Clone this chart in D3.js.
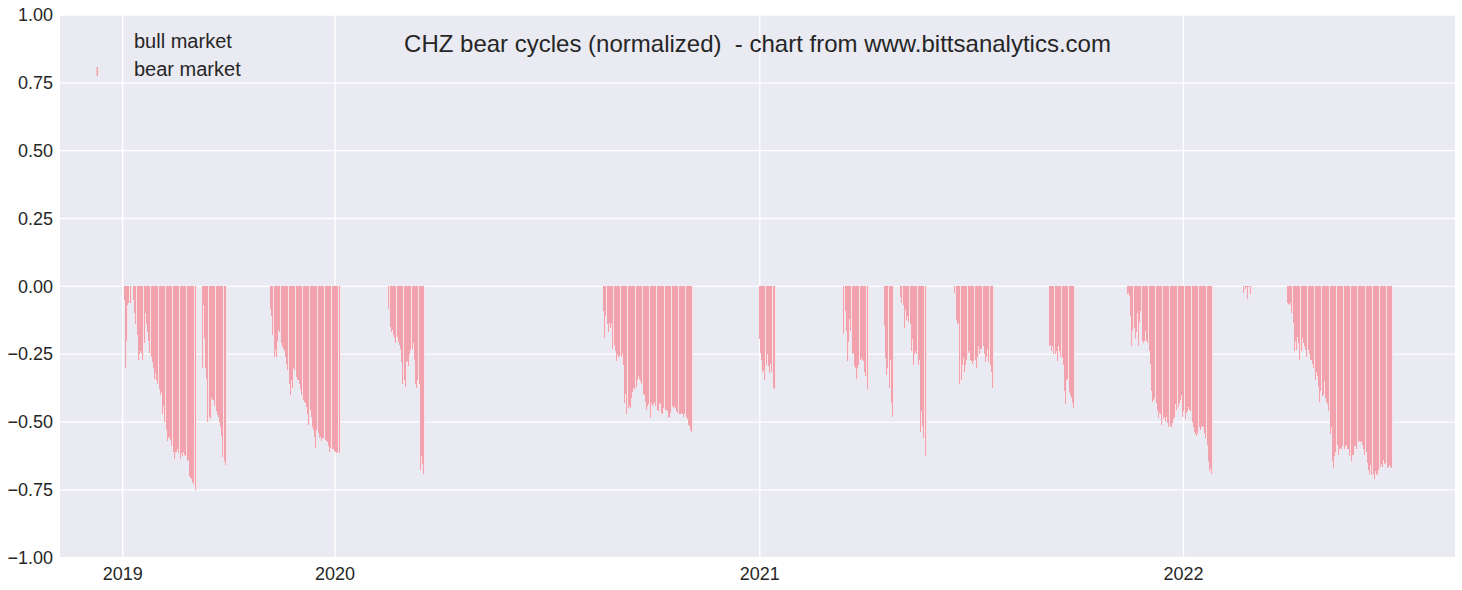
<!DOCTYPE html>
<html><head><meta charset="utf-8">
<script src="https://cdn.jsdelivr.net/npm/d3@7"></script>
<style>
body{margin:0;background:#fff}
text{font-family:"Liberation Sans",Arial,sans-serif;fill:#262626}
</style>
</head><body>
<svg id="c" width="1462" height="590"></svg>
<script>
const titleText = "CHZ bear cycles (normalized)  - chart from www.bittsanalytics.com";
const seriesNames = ["bull market", "bear market"];
const yTicks = [-1, -0.75, -0.5, -0.25, 0, 0.25, 0.5, 0.75, 1];
const xTickDates = ["2019-07-02", "2020-01-01", "2021-01-01", "2022-01-01"];
const xTickLabels = ["2019", "2020", "2021", "2022"];

// start date of each bear-market cycle (daily values follow)
const bearStartDates = ["2019-07-03","2019-09-08","2019-11-06","2020-02-16","2020-08-19","2020-12-31",
  "2021-03-14","2021-04-18","2021-05-02","2021-06-17","2021-09-07","2021-11-13","2022-02-21","2022-03-31"];

const bear01 = [-0.05,-0.30,-0.20,-0.07,-0.06,-0.06,0,0,-0.05,-0.10,-0.14,-0.18,-0.27,-0.25,-0.24,-0.245,-0.27,-0.21,-0.10,-0.14,
  -0.17,-0.20,-0.245,-0.26,-0.28,-0.30,-0.34,-0.32,-0.345,-0.36,-0.38,-0.40,-0.39,-0.47,-0.44,-0.50,-0.53,-0.57,-0.56,-0.555,
  -0.565,-0.59,-0.61,-0.635,-0.61,-0.61,-0.60,-0.615,-0.635,-0.615,-0.625,-0.61,-0.62,-0.625,-0.645,-0.64,-0.70,-0.705,-0.71,-0.72,
  -0.73,-0.75];
const bear02 = [-0.30,-0.07,-0.19,-0.30,-0.34,-0.50,-0.48,-0.49,-0.41,-0.42,-0.42,-0.44,-0.46,-0.475,-0.48,-0.50,-0.52,-0.55,-0.63,-0.645,-0.66];
const bear03 = [-0.085,-0.11,-0.18,-0.26,-0.235,-0.26,-0.20,-0.16,-0.17,-0.21,-0.225,-0.23,-0.24,-0.26,-0.285,-0.31,-0.36,-0.40,-0.345,-0.375,
  -0.30,-0.31,-0.335,-0.345,-0.345,-0.36,-0.38,-0.40,-0.42,-0.425,-0.43,-0.445,-0.47,-0.51,-0.455,-0.48,-0.52,-0.53,-0.555,-0.595,
  -0.53,-0.54,-0.56,-0.555,-0.57,-0.56,-0.56,-0.565,-0.57,-0.575,-0.59,-0.61,-0.595,-0.60,-0.60,-0.605,-0.61,-0.615,-0.61,-0.615];
const bear04 = [-0.085,-0.15,-0.17,-0.16,-0.18,-0.19,-0.21,-0.185,-0.205,-0.215,-0.23,-0.28,-0.36,-0.345,-0.37,-0.28,-0.275,-0.295,-0.25,-0.235,
  -0.23,-0.21,-0.27,-0.36,-0.375,-0.345,-0.36,-0.675,-0.625,-0.655,-0.69];
const bear05 = [-0.09,-0.19,-0.11,-0.14,-0.17,-0.135,-0.155,-0.135,-0.23,-0.215,-0.24,-0.275,-0.25,-0.26,-0.255,-0.26,-0.245,-0.29,-0.43,-0.395,
  -0.47,-0.45,-0.44,-0.45,-0.41,-0.39,-0.375,-0.38,-0.37,-0.345,-0.33,-0.34,-0.35,-0.36,-0.395,-0.40,-0.425,-0.455,-0.44,-0.435,
  -0.485,-0.43,-0.44,-0.435,-0.425,-0.44,-0.455,-0.46,-0.43,-0.435,-0.465,-0.47,-0.45,-0.455,-0.455,-0.46,-0.485,-0.48,-0.465,-0.44,
  -0.45,-0.44,-0.45,-0.46,-0.465,-0.47,-0.47,-0.465,-0.47,-0.48,-0.47,-0.48,-0.49,-0.51,-0.515,-0.53,-0.535];
const bear06 = [-0.195,-0.245,-0.27,-0.315,-0.31,-0.345,-0.29,-0.25,-0.295,-0.32,-0.285,-0.315,-0.375,-0.38];
const bear07 = [-0.175,-0.09,-0.165,-0.275,-0.205,-0.12,-0.165,-0.25,-0.245,-0.295,-0.30,-0.34,-0.30,-0.29,-0.27,-0.265,-0.27,-0.275,-0.315,-0.33,-0.38];
const bear08 = [-0.145,-0.265,-0.325,-0.30,-0.375,-0.27,-0.43,-0.48];
const bear09 = [-0.04,-0.06,-0.07,-0.155,-0.087,-0.125,-0.11,-0.13,-0.14,-0.24,-0.195,-0.29,-0.25,-0.24,-0.25,-0.29,-0.27,-0.535,-0.46,-0.515,-0.56,-0.625];
const bear10 = [-0.025,0,-0.125,-0.14,-0.135,-0.36,-0.345,-0.29,-0.265,-0.315,-0.29,-0.27,-0.245,-0.24,-0.27,-0.275,-0.285,-0.275,-0.27,-0.30,
  -0.26,-0.22,-0.25,-0.23,-0.23,-0.22,-0.25,-0.28,-0.26,-0.23,-0.28,-0.29,-0.315,-0.375];
const bear11 = [-0.22,-0.215,-0.24,-0.22,-0.25,-0.25,-0.24,-0.275,-0.22,-0.24,-0.26,-0.265,-0.29,-0.385,-0.435,-0.345,-0.34,-0.39,-0.40,-0.41,-0.43,-0.45];
const bear12 = [-0.03,-0.025,-0.035,-0.11,-0.22,-0.16,-0.155,-0.195,-0.17,-0.10,-0.22,-0.13,-0.09,-0.20,-0.21,-0.20,-0.165,-0.20,-0.21,-0.24,
  -0.285,-0.385,-0.425,-0.42,-0.41,-0.43,-0.455,-0.485,-0.465,-0.47,-0.51,-0.49,-0.48,-0.50,-0.48,-0.505,-0.52,-0.515,-0.52,-0.505,
  -0.49,-0.48,-0.435,-0.455,-0.445,-0.43,-0.42,-0.40,-0.48,-0.46,-0.49,-0.465,-0.46,-0.445,-0.455,-0.46,-0.50,-0.52,-0.535,-0.545,
  -0.55,-0.54,-0.52,-0.53,-0.52,-0.515,-0.52,-0.54,-0.56,-0.585,-0.645,-0.68,-0.67,-0.69];
const bear13 = [-0.025,0,-0.008,-0.004,-0.047,-0.003,-0.03];
const bear14 = [-0.06,-0.065,-0.07,-0.06,-0.10,-0.135,-0.24,-0.20,-0.235,-0.185,-0.21,-0.27,-0.24,-0.19,-0.21,-0.22,-0.235,-0.26,-0.235,-0.25,
  -0.27,-0.27,-0.285,-0.30,-0.345,-0.315,-0.33,-0.37,-0.425,-0.385,-0.405,-0.40,-0.35,-0.41,-0.425,-0.435,-0.46,-0.545,-0.52,-0.645,
  -0.67,-0.625,-0.61,-0.585,-0.62,-0.60,-0.595,-0.60,-0.59,-0.60,-0.59,-0.585,-0.60,-0.60,-0.625,-0.645,-0.62,-0.62,-0.59,-0.59,
  -0.60,-0.575,-0.57,-0.575,-0.57,-0.585,-0.60,-0.62,-0.61,-0.65,-0.675,-0.69,-0.66,-0.695,-0.69,-0.71,-0.68,-0.69,-0.695,-0.675,
  -0.665,-0.655,-0.665,-0.64,-0.655,-0.65,-0.67,-0.665,-0.66,-0.665,-0.67];
const bearCycles = [bear01,bear02,bear03,bear04,bear05,bear06,bear07,bear08,bear09,bear10,bear11,bear12,bear13,bear14];

const parse = d3.utcParse("%Y-%m-%d");
const bearData = [];
bearCycles.forEach((vals, k) => {
  const s = parse(bearStartDates[k]);
  vals.forEach((v, i) => bearData.push({date: d3.utcDay.offset(s, i), value: v}));
});

const svg = d3.select("#c");
const L = 60, R = 1455, T = 15, B = 557.7;
const x = d3.scaleUtc().domain([parse("2019-05-09"), parse("2022-08-23")]).range([L, R]);
const y = d3.scaleLinear().domain([-1, 1]).range([B, T]);

svg.append("rect").attr("x", L).attr("y", T).attr("width", R - L).attr("height", B - T).attr("fill", "#EAEAF2");

const grid = svg.append("g").attr("stroke", "#fff").attr("stroke-width", 1.3);
grid.selectAll(".gy").data(yTicks).join("line")
  .attr("x1", L).attr("x2", R).attr("y1", d => y(d)).attr("y2", d => y(d));
grid.selectAll(".gx").data(xTickDates).join("line")
  .attr("y1", T).attr("y2", B).attr("x1", d => x(parse(d))).attr("x2", d => x(parse(d)));

const bars = svg.append("g").attr("shape-rendering", "crispEdges");
const nz = bearData.filter(d => d.value !== 0);
bars.append("g").selectAll("rect").data(nz).join("rect")
  .attr("x", d => Math.round(x(d.date)))
  .attr("width", 2)
  .attr("y", y(0))
  .attr("height", d => y(d.value) - y(0))
  .attr("fill", "#F8E4E8");
bars.append("g").selectAll("rect").data(nz).join("rect")
  .attr("x", d => Math.round(x(d.date)))
  .attr("width", 1)
  .attr("y", y(0))
  .attr("height", d => y(d.value) - y(0))
  .attr("fill", "#F2A2AC");

// axes tick labels
const fmt = d3.format(".2f");
svg.append("g").selectAll("text").data(yTicks).join("text")
  .attr("x", 53).attr("y", d => y(d)).attr("dy", "0.35em")
  .attr("text-anchor", "end").attr("font-size", 18)
  .text(d => fmt(d));
svg.append("g").selectAll("text").data(xTickDates).join("text")
  .attr("x", d => x(parse(d))).attr("y", 579.5)
  .attr("text-anchor", "middle").attr("font-size", 18)
  .text((d, i) => xTickLabels[i]);

// title
svg.append("text").attr("x", (L + R) / 2).attr("y", 51.7)
  .attr("text-anchor", "middle").attr("font-size", 24)
  .style("white-space", "pre").text(titleText);

// legend
const lg = svg.append("g");
lg.append("rect").attr("x", 96.5).attr("y", 67).attr("width", 1.5).attr("height", 9).attr("fill", "#F2A2AC");
lg.selectAll("text").data(seriesNames).join("text")
  .attr("x", 134).attr("y", (d, i) => 47.7 + i * 28.3)
  .attr("font-size", 20).text(d => d);
</script>
</body></html>
